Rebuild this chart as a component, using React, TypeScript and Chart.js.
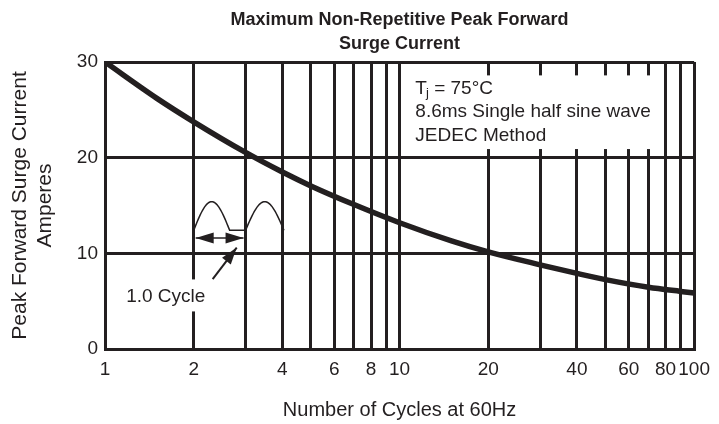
import { useEffect, useRef } from "react";
import { Chart, registerables } from "chart.js";

Chart.register(...registerables);

// ---- data ----
const cycles = [1, 1.5, 2, 3, 4, 5, 7, 10, 15, 20, 30, 40, 50, 70, 90, 100];
const surgeAmps = [30, 26.2, 23.75, 20.55, 18.5, 17.05, 15.1, 13.2, 11.3, 10.15, 8.8, 7.9, 7.25, 6.45, 6.02, 5.85];
const xGridValues = [1, 2, 3, 4, 5, 6, 7, 8, 9, 10, 20, 30, 40, 50, 60, 70, 80, 90, 100];
const xTickLabels = [1, 2, 4, 6, 8, 10, 20, 40, 60, 80, 100];
const yTickValues = [0, 10, 20, 30];
const titleLines = ["Maximum Non-Repetitive Peak Forward", "Surge Current"];
const xAxisTitle = "Number of Cycles at 60Hz";
const yAxisTitle = ["Peak Forward Surge Current", "Amperes"];
const noteTj = { main: "T", sub: "j", rest: " = 75°C" };
const noteLines = ["8.6ms Single half sine wave", "JEDEC Method"];
const cycleLabel = "1.0 Cycle";

// annotation anchors, in data units (cycles, amperes)
const noteBox = { x0: 10.3, x1: 76, y0: 20.9, y1: 28.6 };
const humps = [
  [2, 2.65],
  [3, 4.05],
];
const humpBase = 12.4;
const humpPeak = 15.4;
const spanArrow = { x0: 2, x1: 3, y: 11.6 };
const pointerArrow = { from: [2.32, 7.3], to: [2.8, 10.6] };
const cycleLabelPos = [1.18, 5.6];

const INK = "#231f20";
const FONT = '"Liberation Sans", Arial, sans-serif';

function arrowHead(ctx: CanvasRenderingContext2D, tx: number, ty: number, angle: number, len: number, half: number) {
  const bx = tx - Math.cos(angle) * len;
  const by = ty - Math.sin(angle) * len;
  const nx = -Math.sin(angle) * half;
  const ny = Math.cos(angle) * half;
  ctx.beginPath();
  ctx.moveTo(tx, ty);
  ctx.lineTo(bx + nx, by + ny);
  ctx.lineTo(bx - nx, by - ny);
  ctx.closePath();
  ctx.fill();
}

const annotPlugin = {
  id: "annot",
  beforeDatasetsDraw(chart: any) {
    const { ctx } = chart;
    const xs = chart.scales.x;
    const ys = chart.scales.y;
    const px = (v: number) => xs.getPixelForValue(v);
    const py = (v: number) => ys.getPixelForValue(v);
    ctx.save();

    // note box (white, hides grid)
    const bx0 = px(noteBox.x0);
    const bx1 = px(noteBox.x1);
    const by0 = py(noteBox.y1);
    const by1 = py(noteBox.y0);
    ctx.fillStyle = "#fff";
    ctx.fillRect(bx0, by0, bx1 - bx0, by1 - by0);

    ctx.fillStyle = INK;
    ctx.textBaseline = "middle";
    ctx.textAlign = "left";
    const tx = bx0 + 12;
    const ty = by0 + 13;
    ctx.font = `19px ${FONT}`;
    ctx.fillText(noteTj.main, tx, ty);
    const wT = ctx.measureText(noteTj.main).width;
    ctx.font = `13px ${FONT}`;
    ctx.fillText(noteTj.sub, tx + wT - 1, ty + 5);
    const wj = ctx.measureText(noteTj.sub).width;
    ctx.font = `19px ${FONT}`;
    ctx.fillText(noteTj.rest, tx + wT - 1 + wj, ty);
    noteLines.forEach((l, i) => ctx.fillText(l, tx, ty + 23.5 * (i + 1)));

    // 1.0 Cycle label with white background
    ctx.font = `19px ${FONT}`;
    const lx = px(cycleLabelPos[0]);
    const ly = py(cycleLabelPos[1]);
    const lw = ctx.measureText(cycleLabel).width;
    ctx.fillStyle = "#fff";
    ctx.fillRect(lx - 6, ly - 16, lw + 12, 32);
    ctx.fillStyle = INK;
    ctx.fillText(cycleLabel, lx, ly + 1);

    // half sine humps
    ctx.strokeStyle = INK;
    ctx.lineWidth = 1.5;
    const yb = py(humpBase);
    const yp = py(humpPeak);
    ctx.beginPath();
    humps.forEach(([a, b], hi) => {
      const xa = px(a);
      const xb = px(b);
      for (let i = 0; i <= 40; i++) {
        const t = i / 40;
        const X = xa + (xb - xa) * t;
        const Y = yb + (yp - yb) * Math.sin(Math.PI * t);
        if (i === 0 && hi === 0) ctx.moveTo(X, Y);
        else ctx.lineTo(X, Y);
      }
      if (hi === 0) ctx.lineTo(px(humps[1][0]), yb);
    });
    ctx.stroke();

    // span arrow
    const ay = py(spanArrow.y);
    const ax0 = px(spanArrow.x0) + 2;
    const ax1 = px(spanArrow.x1) - 2;
    ctx.beginPath();
    ctx.moveTo(ax0, ay);
    ctx.lineTo(ax1, ay);
    ctx.stroke();
    arrowHead(ctx, ax0, ay, Math.PI, 18, 5.5);
    arrowHead(ctx, ax1, ay, 0, 18, 5.5);

    // pointer arrow
    const fx = px(pointerArrow.from[0]);
    const fy = py(pointerArrow.from[1]);
    const gx = px(pointerArrow.to[0]);
    const gy = py(pointerArrow.to[1]);
    ctx.lineWidth = 2;
    ctx.beginPath();
    ctx.moveTo(fx, fy);
    ctx.lineTo(gx, gy);
    ctx.stroke();
    arrowHead(ctx, gx, gy, Math.atan2(gy - fy, gx - fx), 17, 5.5);

    ctx.restore();
  },
};

export default function App() {
  const ref = useRef<HTMLCanvasElement>(null);
  useEffect(() => {
    document.body.style.margin = "0";
    const chart = new Chart(ref.current!, {
      type: "line",
      data: {
        datasets: [
          {
            data: cycles.map((c, i) => ({ x: c, y: surgeAmps[i] })),
            borderColor: INK,
            borderWidth: 5.5,
            pointRadius: 0,
            cubicInterpolationMode: "monotone",
            fill: false,
          },
        ],
      },
      options: {
        animation: false,
        responsive: false,
        layout: { padding: { top: 0, left: 0, right: 22, bottom: 0 } },
        plugins: {
          legend: { display: false },
          tooltip: { enabled: false },
          title: {
            display: true,
            text: titleLines,
            color: INK,
            fullSize: false,
            font: { family: FONT, size: 18, weight: "bold", lineHeight: 1.35 },
            padding: { top: 8, bottom: 5.4 },
          },
        },
        scales: {
          x: {
            type: "logarithmic",
            min: 1,
            max: 100,
            afterBuildTicks: (s: any) => {
              s.ticks = xGridValues.map((v) => ({ value: v }));
            },
            afterFit: (s: any) => {
              s.height = 75;
            },
            ticks: {
              autoSkip: false,
              maxRotation: 0,
              minRotation: 0,
              padding: 9,
              color: INK,
              font: { family: FONT, size: 19 },
              callback: (v: any) => (xTickLabels.includes(Number(v)) ? String(v) : ""),
            },
            grid: { color: INK, lineWidth: 3, drawTicks: false },
            border: { display: true, color: INK, width: 3 },
            title: {
              display: true,
              text: xAxisTitle,
              color: INK,
              font: { family: FONT, size: 20, lineHeight: 1.2 },
              padding: { top: 0, bottom: 2 },
            },
          },
          y: {
            type: "linear",
            min: 0,
            max: 30,
            afterBuildTicks: (s: any) => {
              s.ticks = yTickValues.map((v) => ({ value: v }));
            },
            afterFit: (s: any) => {
              s.width = 105;
            },
            ticks: {
              padding: 7,
              color: INK,
              font: { family: FONT, size: 19 },
            },
            grid: { color: INK, lineWidth: 3, drawTicks: false },
            border: { display: true, color: INK, width: 3 },
            title: {
              display: true,
              text: yAxisTitle,
              color: INK,
              font: { family: FONT, size: 21, lineHeight: 1.19 },
              padding: { top: 7.5, bottom: 0 },
            },
          },
        },
      },
      plugins: [annotPlugin],
    });
    return () => chart.destroy();
  }, []);
  return (
    <div style={{ width: 719, height: 424 }}>
      <canvas ref={ref} width={719} height={424} style={{ display: "block" }} />
    </div>
  );
}
